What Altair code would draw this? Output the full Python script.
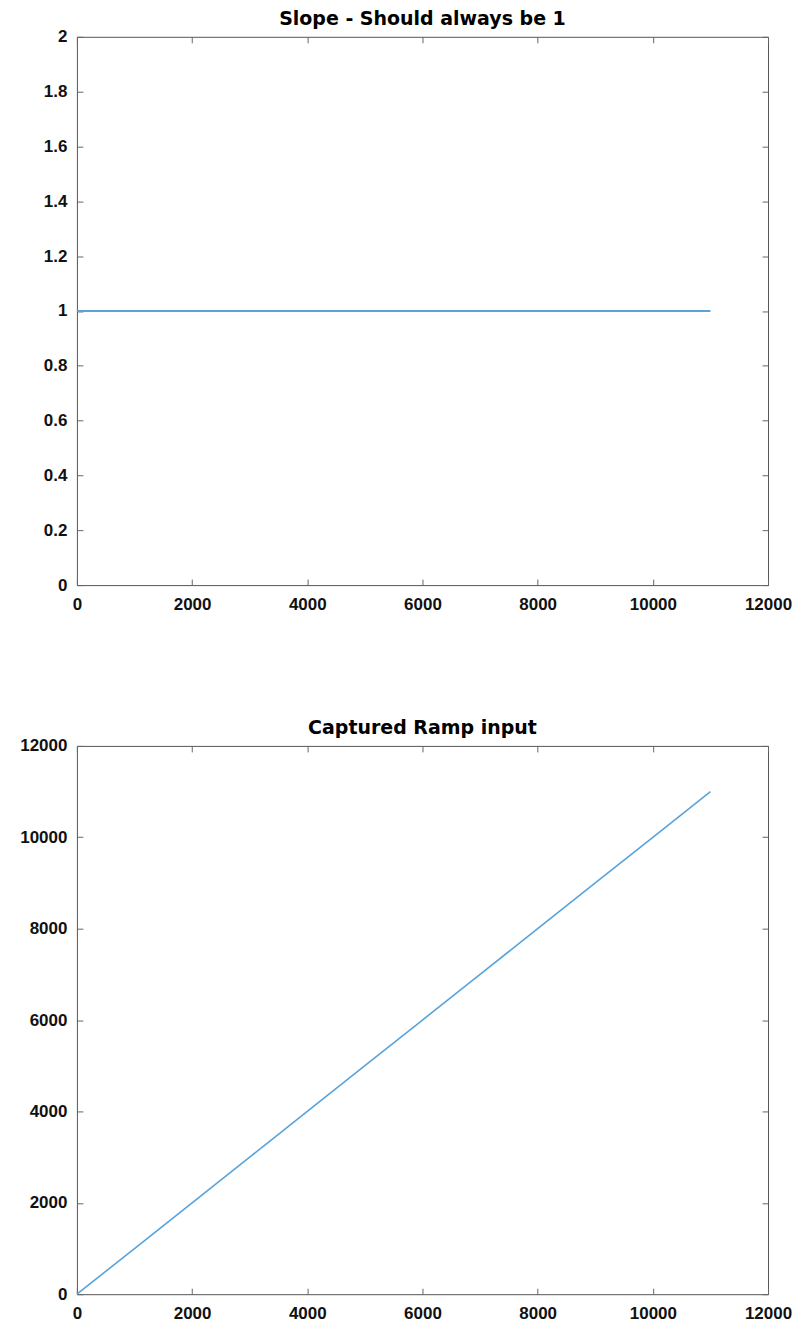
import altair as alt
import pandas as pd

# ---- data ----
sample_index = [0, 1000, 2000, 3000, 4000, 5000, 6000, 7000, 8000, 9000, 10000, 11000]
slope_values = [1, 1, 1, 1, 1, 1, 1, 1, 1, 1, 1, 1]
ramp_values = [0, 1000, 2000, 3000, 4000, 5000, 6000, 7000, 8000, 9000, 10000, 11000]

x_ticks = [0, 2000, 4000, 6000, 8000, 10000, 12000]
slope_ticks = [0, 0.2, 0.4, 0.6, 0.8, 1, 1.2, 1.4, 1.6, 1.8, 2]
ramp_ticks = [0, 2000, 4000, 6000, 8000, 10000, 12000]

slope_title = "Slope - Should always be 1"
ramp_title = "Captured Ramp input"

W, H = 692, 549
LINE_COLOR = "#57a3dc"

slope_df = pd.DataFrame({"x": sample_index, "y": slope_values})
ramp_df = pd.DataFrame({"x": sample_index, "y": ramp_values})


def panel(df, ydom, yticks, yfmt, title, sw):
    xs = alt.Scale(domain=[0, 12000], nice=False, zero=False)
    ys = alt.Scale(domain=ydom, nice=False, zero=False)
    base = alt.Chart(df)
    labelled = base.mark_line(color=LINE_COLOR, strokeWidth=sw).encode(
        x=alt.X("x:Q", scale=xs, axis=alt.Axis(
            orient="bottom", values=x_ticks, format="d", title=None,
            ticks=False, domain=False, grid=False, labelPadding=11,
            labelFlush=False, labelOverlap=False)),
        y=alt.Y("y:Q", scale=ys, axis=alt.Axis(
            orient="left", values=yticks, format=yfmt, title=None,
            ticks=False, domain=False, grid=False, labelPadding=10,
            labelFlush=False, labelOverlap=False,
            minExtent=68, maxExtent=68)),
    )
    inner1 = base.mark_line(opacity=0).encode(
        x=alt.X("x:Q", scale=xs, axis=alt.Axis(
            orient="top", offset=-H, values=x_ticks, labels=False, title=None,
            domain=False, grid=False, tickSize=6, minExtent=0)),
        y=alt.Y("y:Q", scale=ys, axis=alt.Axis(
            orient="right", offset=-W, values=yticks, labels=False, title=None,
            domain=False, grid=False, tickSize=6, minExtent=0)),
    )
    inner2 = base.mark_line(opacity=0).encode(
        x=alt.X("x:Q", scale=xs, axis=alt.Axis(
            orient="bottom", offset=-H, values=x_ticks, labels=False, title=None,
            domain=False, grid=False, tickSize=6, minExtent=0)),
        y=alt.Y("y:Q", scale=ys, axis=alt.Axis(
            orient="left", offset=-W, values=yticks, labels=False, title=None,
            domain=False, grid=False, tickSize=6, minExtent=0)),
    )
    return alt.layer(labelled, inner1, inner2).resolve_scale(
        x="independent", y="independent"
    ).properties(width=W, height=H, title=alt.Title(title))


top = panel(slope_df, [0, 2], slope_ticks, "~g", slope_title, 2)
bottom = panel(ramp_df, [0, 12000], ramp_ticks, "d", ramp_title, 1.6)

chart = alt.vconcat(top, bottom, spacing=105).properties(
    padding={"top": 0, "left": 0, "right": 0, "bottom": 0}
).configure_view(
    stroke="#555555", strokeWidth=1
).configure_title(
    font="DejaVu Sans", fontSize=19, fontWeight="bold", color="#000000",
    offset=-1, anchor="middle"
).configure_axis(
    labelFont="Liberation Sans", labelFontSize=17, labelFontWeight="bold",
    labelColor="#111111", tickColor="#666666", tickWidth=1
)

chart.save("out.html", embed_options={"renderer": "svg", "actions": False})
